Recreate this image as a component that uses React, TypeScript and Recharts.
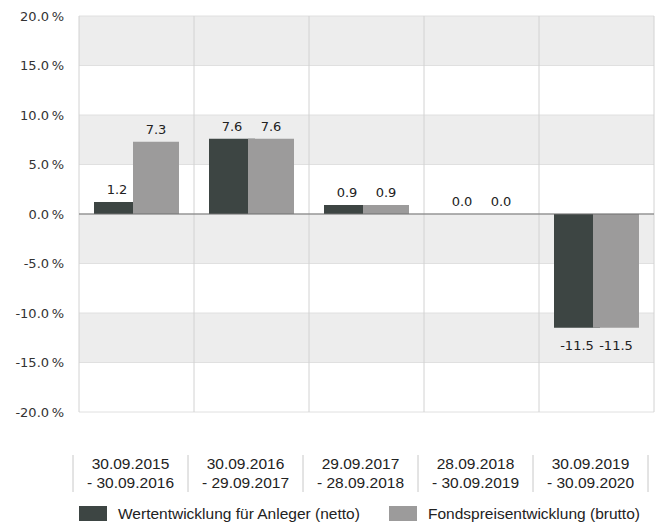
import React from 'react';
import { BarChart, Bar, XAxis, YAxis, CartesianGrid, ReferenceLine, LabelList, Legend } from 'recharts';

const periodStarts = ['30.09.2015', '30.09.2016', '29.09.2017', '28.09.2018', '30.09.2019'];
const periodEnds = ['30.09.2016', '29.09.2017', '28.09.2018', '30.09.2019', '30.09.2020'];
const nettoValues = [1.2, 7.6, 0.9, 0.0, -11.5];
const bruttoValues = [7.3, 7.6, 0.9, 0.0, -11.5];
const yTicks = [-20, -15, -10, -5, 0, 5, 10, 15, 20];
const seriesNames = ['Wertentwicklung für Anleger (netto)', 'Fondspreisentwicklung (brutto)'];
const seriesColors = ['#3d4543', '#9c9b9b'];

const data = periodStarts.map((s, i) => ({
  period: `${s}|- ${periodEnds[i]}`,
  netto: nettoValues[i],
  brutto: bruttoValues[i],
}));

const W = 656;
const H = 527;
const PLOT_W = 575;
const BAND = PLOT_W / periodStarts.length;

const XTick = (props: any) => {
  const { x, y, payload, index } = props;
  const [l1, l2] = String(payload.value).split('|');
  const cx = x - 6;
  const left = x - BAND / 2 - 6;
  const right = x + BAND / 2 - 6;
  const isLast = index === periodStarts.length - 1;
  const font = { fontFamily: 'Liberation Sans, Arial, sans-serif', fontSize: 15.5, fill: '#222' };
  return (
    <g>
      <line x1={left} x2={left} y1={y + 43} y2={y + 80} stroke="#c8c8c8" />
      {isLast && <line x1={right} x2={right} y1={y + 43} y2={y + 80} stroke="#c8c8c8" />}
      <text x={cx} y={y + 56.5} textAnchor="middle" {...font}>{l1}</text>
      <text x={cx} y={y + 75.5} textAnchor="middle" {...font}>{l2}</text>
    </g>
  );
};

const renderLabel = (props: any) => {
  const vb = props.viewBox && props.viewBox.width !== undefined ? props.viewBox : props;
  const { x, y, width, height } = vb;
  const value = Number(props.value);
  const top = Math.min(y, y + height);
  const bottom = Math.max(y, y + height);
  const cx = x + width / 2;
  const ty = value >= 0 ? top - 8 : bottom + 22;
  return (
    <text x={cx} y={ty} textAnchor="middle" fontSize={13} fontFamily="DejaVu Sans, sans-serif" fill="#222">
      {value.toFixed(1)}
    </text>
  );
};

const LegendContent = () => {
  const items = [
    { name: seriesNames[0], color: seriesColors[0], sx: 79, tx: 118 },
    { name: seriesNames[1], color: seriesColors[1], sx: 389, tx: 428 },
  ];
  return (
    <div style={{ position: 'relative', width: W, height: 27 }}>
      {items.map((it) => (
        <React.Fragment key={it.name}>
          <div style={{ position: 'absolute', left: it.sx, top: 6, width: 28, height: 15, background: it.color }} />
          <div
            style={{
              position: 'absolute',
              left: it.tx,
              top: 5,
              fontFamily: 'Liberation Sans, Arial, sans-serif',
              fontSize: 15.5,
              color: '#222',
              whiteSpace: 'nowrap',
            }}
          >
            {it.name}
          </div>
        </React.Fragment>
      ))}
    </div>
  );
};

export default function App() {
  return (
    <div style={{ position: 'fixed', left: 0, top: 0, width: W, height: H, background: '#fff' }}>
      <BarChart
        width={W}
        height={H}
        data={data}
        margin={{ top: 16, right: 2, bottom: 25, left: 0 }}
        barSize={46}
        barGap={-7}
      >
        <CartesianGrid vertical={false} stroke="#e0e0e0" horizontalFill={['#ededed', '#ffffff']} fillOpacity={1} />
        <CartesianGrid
          horizontal={false}
          stroke="#d2d2d2"
          verticalCoordinatesGenerator={({ offset }: any) =>
            Array.from({ length: periodStarts.length + 1 }, (_, i) => offset.left + (i * offset.width) / periodStarts.length)
          }
        />
        <XAxis
          dataKey="period"
          axisLine={false}
          tickLine={false}
          tickSize={0}
          tickMargin={0}
          height={90}
          interval={0}
          tick={<XTick />}
        />
        <YAxis
          width={79}
          domain={[-20, 20]}
          ticks={yTicks}
          axisLine={false}
          tickLine={false}
          tickSize={0}
          tickMargin={15}
          tickFormatter={(v: number) => `${v.toFixed(1)}\u2009%`}
          tick={{ fontFamily: 'DejaVu Sans, sans-serif', fontSize: 13, fill: '#333' }}
        />
        <Bar dataKey="netto" name={seriesNames[0]} fill={seriesColors[0]} minPointSize={0.01} isAnimationActive={false}>
          <LabelList dataKey="netto" content={renderLabel} />
        </Bar>
        <Bar dataKey="brutto" name={seriesNames[1]} fill={seriesColors[1]} minPointSize={0.01} isAnimationActive={false}>
          <LabelList dataKey="brutto" content={renderLabel} />
        </Bar>
        <ReferenceLine y={0} stroke="#707070" strokeWidth={1} />
        <Legend
          layout="horizontal"
          verticalAlign="middle"
          align="center"
          wrapperStyle={{ top: 500, left: 0, width: W, height: 27 }}
          content={<LegendContent />}
        />
      </BarChart>
    </div>
  );
}
